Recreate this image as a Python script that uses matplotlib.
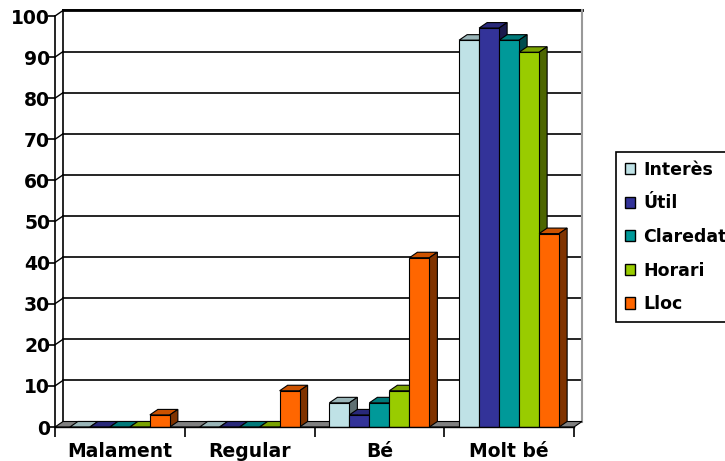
import matplotlib.pyplot as plt
from matplotlib.patches import Polygon, Patch
from matplotlib.colors import to_rgb

categories = ["Malament", "Regular", "Bé", "Molt bé"]
series = ["Interès", "Útil", "Claredat", "Horari", "Lloc"]
interes = [0, 0, 5.88, 94.12]
util = [0, 0, 2.94, 97.06]
claredat = [0, 0, 5.88, 94.12]
horari = [0, 0, 8.82, 91.18]
lloc = [2.94, 8.82, 41.18, 47.06]
yticks = list(range(0, 101, 10))

values = [interes, util, claredat, horari, lloc]
colors = ["#BFE2E6", "#333399", "#009999", "#99CC00", "#FF6600"]

plt.rcParams["font.weight"] = "bold"
plt.rcParams["axes.labelweight"] = "bold"

W, H = 725, 461
fig = plt.figure(figsize=(W / 100, H / 100), dpi=100)
ax_px = (55, 34, 519, 411)
ax = fig.add_axes([ax_px[0] / W, ax_px[1] / H, ax_px[2] / W, ax_px[3] / H])
ax.set_xlim(-0.5, 3.5)
ax.set_ylim(0, 100)
ax.patch.set_alpha(0)

# depth of the 3d effect, in pixels, turned into data units
px_x = ax_px[2] / 4
px_y = ax_px[3] / 100
dx = 8 / px_x
dy = 5.5 / px_y


def shade(c, f):
    r, g, b = to_rgb(c)
    return (r * f, g * f, b * f)


def poly(pts, fc, ec="black", lw=0.8, z=1):
    ax.add_patch(Polygon(pts, closed=True, facecolor=fc, edgecolor=ec,
                         linewidth=lw, zorder=z, clip_on=False))


x0, x1 = -0.5, 3.5

# back wall, side wall and floor
poly([(x0 + dx, dy), (x1 + dx, dy), (x1 + dx, 100 + dy), (x0 + dx, 100 + dy)],
     "white", ec="none", z=0.5)
poly([(x0, 0), (x0 + dx, dy), (x0 + dx, 100 + dy), (x0, 100)], "white", ec="none", z=0.5)
for v in yticks[1:]:
    ax.plot([x0 + dx, x1 + dx], [v + dy, v + dy], color="black", lw=1.2,
            zorder=0.8, clip_on=False)
    ax.plot([x0, x0 + dx], [v, v + dy], color="black", lw=1.0, zorder=0.8, clip_on=False)
ax.plot([x0 + dx, x1 + dx], [100 + dy, 100 + dy], color="black", lw=2, zorder=0.9, clip_on=False)
ax.plot([x0 + dx, x0 + dx], [dy, 100 + dy], color="black", lw=1.2, zorder=0.9, clip_on=False)
ax.plot([x1 + dx, x1 + dx], [dy, 100 + dy], color="#999999", lw=1.5, zorder=0.9, clip_on=False)
poly([(x0, 0), (x1, 0), (x1 + dx, dy), (x0 + dx, dy)], "#808080", z=1)

# bars with top and side faces
bw = 20 / px_x
for i, (vals, col) in enumerate(zip(values, colors)):
    z = 2 + i * 0.1
    for j, h in enumerate(vals):
        left = j + (i - 2.5) * bw
        right = left + bw
        poly([(left, h), (right, h), (right + dx, h + dy), (left + dx, h + dy)],
             shade(col, 0.8), z=z)
        if h > 0:
            poly([(right, 0), (right + dx, dy), (right + dx, h + dy), (right, h)],
                 shade(col, 0.5), z=z)
    ax.bar([j + (i - 2) * bw for j in range(len(categories))], vals, width=bw,
           color=col, edgecolor="black", linewidth=0.8, zorder=z + 0.05)

# axes
for s in ["top", "right"]:
    ax.spines[s].set_visible(False)
ax.spines["left"].set_linewidth(1.2)
ax.spines["bottom"].set_linewidth(1.0)
ax.spines["left"].set_zorder(5)

ax.set_yticks(yticks)
ax.tick_params(axis="y", length=5, width=1.2, labelsize=13.5, pad=-1.5)
ax.set_xticks(range(len(categories)))
ax.set_xticklabels(categories)
ax.set_xticks([-0.5, 0.5, 1.5, 2.5, 3.5], minor=True)
ax.tick_params(axis="x", which="major", length=0, labelsize=13.5, pad=11)
ax.tick_params(axis="x", which="minor", length=7, width=1.2)

handles = [Patch(facecolor=c, edgecolor="black", linewidth=1) for c in colors]
leg = fig.legend(handles, series, loc="upper left",
                 bbox_to_anchor=(616 / W, 1 - 152 / H),
                 prop={"size": 12.5, "weight": "bold"},
                 frameon=True, fancybox=False, framealpha=1, edgecolor="black",
                 borderpad=0.5, handlelength=0.62, handleheight=0.62,
                 handletextpad=0.45, labelspacing=0.9, borderaxespad=0)
leg.get_frame().set_linewidth(1.2)

fig.savefig("out.png", dpi=100)
